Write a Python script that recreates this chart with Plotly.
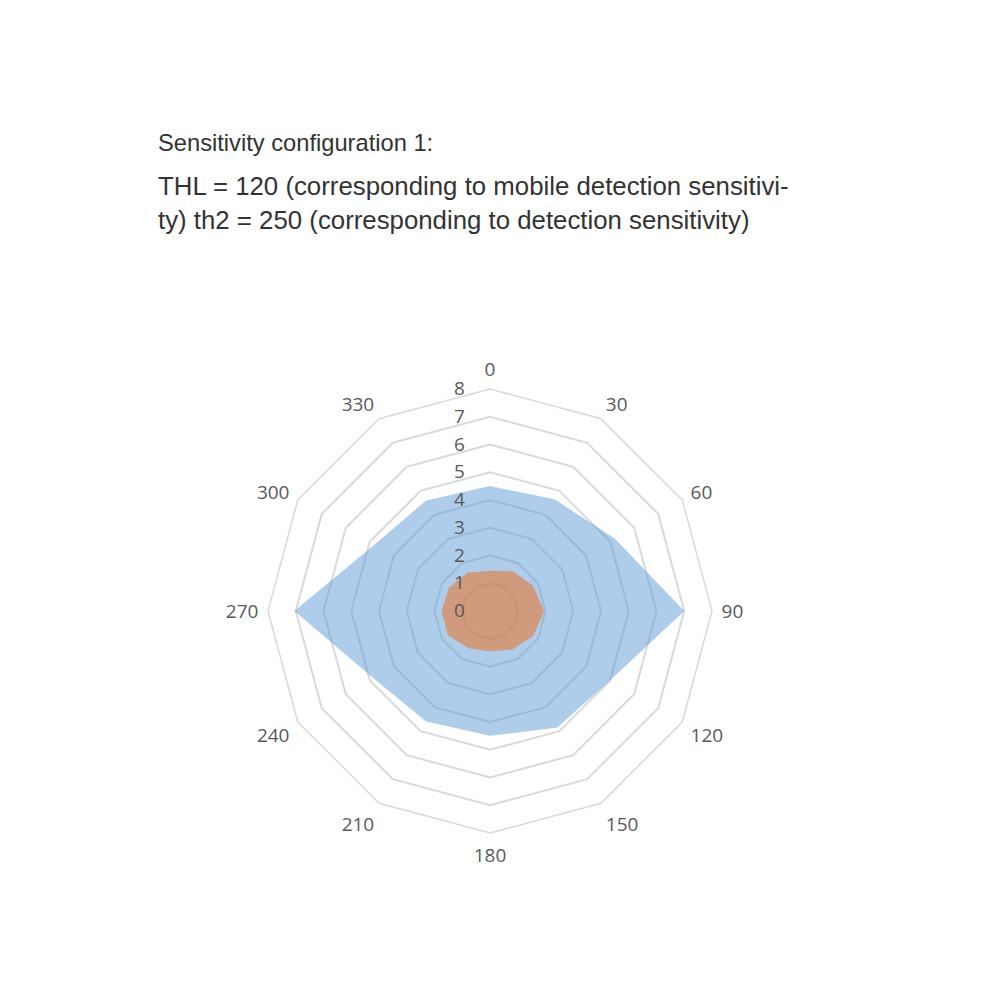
import plotly.graph_objects as go

angles = ["0", "30", "60", "90", "120", "150", "180", "210", "240", "270", "300", "330"]
series_blue = [4.5, 4.65, 5.2, 7.0, 5.0, 4.85, 4.5, 4.6, 4.85, 7.05, 4.8, 4.6]
series_orange = [1.45, 1.65, 1.8, 1.95, 1.8, 1.6, 1.45, 1.55, 1.75, 1.75, 1.7, 1.6]
radial_ticks = [0, 1, 2, 3, 4, 5, 6, 7, 8]

title_line1 = "Sensitivity configuration 1:"
title_line2 = "THL = 120 (corresponding to mobile detection sensitivi-"
title_line3 = "ty) th2 = 250 (corresponding to detection sensitivity)"

fig = go.Figure()

fig.add_trace(go.Scatterpolar(
    r=series_blue + series_blue[:1],
    theta=angles + angles[:1],
    mode="lines",
    fill="toself",
    fillcolor="rgba(91,155,213,0.5)",
    line=dict(width=0, color="rgba(91,155,213,0)"),
    showlegend=False,
    hoverinfo="r+theta",
))
fig.add_trace(go.Scatterpolar(
    r=series_orange + series_orange[:1],
    theta=angles + angles[:1],
    mode="lines",
    fill="toself",
    fillcolor="rgba(232,120,50,0.6)",
    line=dict(width=0, color="rgba(237,125,49,0)"),
    showlegend=False,
    hoverinfo="r+theta",
))

W = 990.0
OFF = 8.0  # page body margin
cx, cy, R = 490.0 - OFF, 611.0 - OFF, 222.0

fig.update_layout(
    width=990, height=990,
    margin=dict(l=0, r=0, t=0, b=0),
    paper_bgcolor="white",
    plot_bgcolor="white",
    showlegend=False,
    polar=dict(
        domain=dict(x=[(cx - R) / W, (cx + R) / W], y=[1 - (cy + R) / W, 1 - (cy - R) / W]),
        bgcolor="rgba(0,0,0,0)",
        gridshape="linear",
        angularaxis=dict(
            type="category",
            categoryorder="array",
            categoryarray=angles,
            rotation=90,
            direction="clockwise",
            showgrid=False,
            showline=True,
            linecolor="#d9d9d9",
            linewidth=1.5,
            ticks="outside",
            ticklen=5,
            tickcolor="rgba(0,0,0,0)",
            tickfont=dict(family="Open Sans", size=19, color="#595959"),
        ),
        radialaxis=dict(
            range=[0, 8],
            tickvals=radial_ticks,
            ticktext=[str(v) for v in radial_ticks],
            angle=90,
            tickangle=90,
            side="counterclockwise",
            showline=False,
            ticks="outside",
            ticklen=18,
            tickcolor="rgba(0,0,0,0)",
            showgrid=True,
            gridcolor="#d9d9d9",
            gridwidth=1.5,
            tickfont=dict(family="Open Sans", size=19, color="#595959"),
        ),
    ),
    annotations=[
        dict(text=title_line1, x=(158 - OFF - 2) / W, y=1 - (143 - OFF) / W, xref="paper", yref="paper",
             xanchor="left", yanchor="middle", showarrow=False,
             font=dict(family="Liberation Sans", size=23.7, color="#333333")),
        dict(text=title_line2, x=(158 - OFF - 2) / W, y=1 - (186 - OFF) / W, xref="paper", yref="paper",
             xanchor="left", yanchor="middle", showarrow=False,
             font=dict(family="Liberation Sans", size=25.8, color="#333333")),
        dict(text=title_line3, x=(158 - OFF - 2) / W, y=1 - (220 - OFF) / W, xref="paper", yref="paper",
             xanchor="left", yanchor="middle", showarrow=False,
             font=dict(family="Liberation Sans", size=25.8, color="#333333")),
    ],
)

fig.write_html("out.html")
